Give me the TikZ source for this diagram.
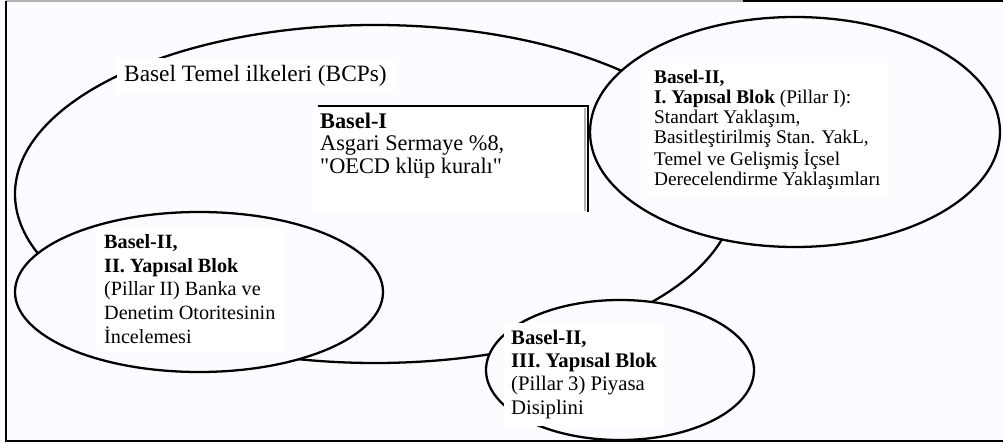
\documentclass[tikz,border=0pt]{standalone}
\usepackage{fontspec}
\setmainfont{Liberation Serif}
\newfontfamily\plainq{Liberation Serif}
\definecolor{paper}{RGB}{252,251,255}
\begin{document}
\begin{tikzpicture}[x=1cm,y=1cm,line width=1.3pt,
  oval/.style={draw,fill=paper},
  txt/.style={fill=white,anchor=north west,align=left,inner sep=4pt}]
\fill[paper] (0,0) rectangle (20.06,8.86);
\useasboundingbox (0,0) rectangle (20.06,8.86);
% frame
\draw[gray!60,line width=0.8pt] (0.12,8.84) -- (14.86,8.84);
\draw[line width=1.2pt] (14.86,8.84) -- (20.06,8.84);
\draw[line width=1.5pt] (0.12,8.84) -- (0.12,0.04) -- (20.06,0.04);
% ovals
\draw (7.5,4.98) ellipse [x radius=7.2,y radius=3.38];
\draw[oval] (3.98,3.02) ellipse [x radius=3.68,y radius=1.6];
\draw[oval] (15.9,6.22) ellipse [x radius=4.1,y radius=2.3];
\draw[oval] (12.4,1.46) ellipse [x radius=2.68,y radius=1.4];
% Basel-I box
\fill[white] (6.26,6.74) rectangle (11.76,4.62);
\draw[gray!60,line width=1.5pt] (11.70,6.70) -- (11.70,4.64);
\draw[line width=1pt] (6.36,6.74) -- (11.76,6.74) -- (11.76,4.62);
% texts
\node[txt,font={\fontsize{13.3}{16}\selectfont}] (bcp) at (2.32,7.72) {Basel Temel ilkeleri (BCPs)};
\node[txt,fill=none,font={\fontsize{12.7}{12.8}\selectfont}] (basel1) at (6.24,6.77) {\textbf{Basel-I}\\Asgari Sermaye \%8,\\{\plainq"}OECD klüp kuralı{\plainq"}};
\node[txt,font={\fontsize{11}{11.4}\selectfont}] (pillar1) at (12.92,7.62) {\textbf{Basel-II,}\\\textbf{I. Yapısal Blok} (Pillar I):\\Standart Yaklaşım,\\Basitleştirilmiş Stan. YakL,\\Temel ve Gelişmiş İçsel\\Derecelendirme Yaklaşımları};
\node[txt,font={\fontsize{11.5}{13.6}\selectfont}] (pillar2) at (1.92,4.34) {\textbf{Basel-II,}\\\textbf{II. Yapısal Blok}\\(Pillar II) Banka ve\\Denetim Otoritesinin\\İncelemesi};
\node[txt,font={\fontsize{11.8}{13.3}\selectfont}] (pillar3) at (10.06,2.43) {\textbf{Basel-II,}\\\textbf{III. Yapısal Blok}\\(Pillar 3) Piyasa\\Disiplini};
\end{tikzpicture}
\end{document}
